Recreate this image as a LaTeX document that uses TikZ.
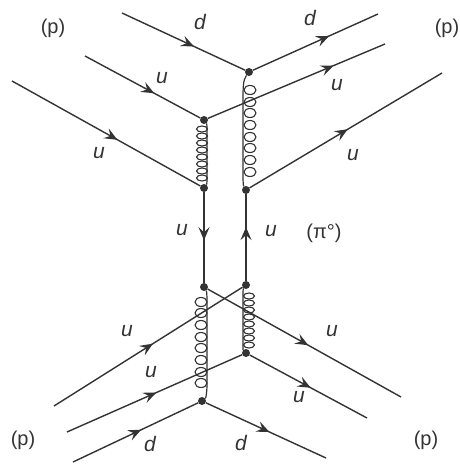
\documentclass[tikz,border=0pt]{standalone}
\usepackage{fontspec}
\setmainfont{Liberation Sans}
\usetikzlibrary{decorations.markings,arrows.meta}
\definecolor{ink}{gray}{0.2}
\tikzset{
  quark/.style={line width=1.4pt,draw=ink,postaction={decorate,decoration={markings,mark=at position #1 with {\arrow[ink]{Stealth[length=13pt,width=11pt,inset=5pt]}}}}},
  vtx/.style={circle,fill=ink,inner sep=0pt,minimum size=8pt},
  gline/.style={line width=1.2pt,draw=ink},
  loopa/.style={line width=1.1pt,draw=ink},
  lbl/.style={font=\fontsize{21}{24}\selectfont\itshape,text=ink,inner sep=0pt},
  tag/.style={font=\fontsize{20}{23}\selectfont,text=ink,inner sep=0pt}
}
\begin{document}
\begin{tikzpicture}[x=1pt,y=-1pt]
\useasboundingbox (0,0) rectangle (460,464);
\node[vtx] (A) at (249,72) {};
\node[vtx] (B) at (204,120) {};
\node[vtx] (C) at (204,188) {};
\node[vtx] (D) at (246,190) {};
\node[vtx] (E) at (204,287) {};
\node[vtx] (F) at (246,285) {};
\node[vtx] (G) at (246,353) {};
\node[vtx] (H) at (202,401) {};
\coordinate (a1) at (122,13);
\coordinate (a2) at (378,14);
\coordinate (b1) at (85,56);
\coordinate (b2) at (385,44);
\coordinate (c1) at (12,81);
\coordinate (d2) at (442,73);
\coordinate (f1) at (54,406);
\coordinate (g1) at (67,432);
\coordinate (h1) at (73,462);
\coordinate (e2) at (401,397);
\coordinate (g2) at (367,418);
\coordinate (h2) at (326,458);
\draw[quark=0.585] (a1) -- (A);
\draw[quark=0.61] (A) -- (a2);
\draw[quark=0.60] (b1) -- (B);
\draw[quark=0.71] (B) -- (b2);
\draw[quark=0.56] (c1) -- (C);
\draw[quark=0.51] (D) -- (d2);
\draw[quark=0.53] (C) -- (E);
\draw[quark=0.62] (F) -- (D);
\draw[quark=0.525] (f1) -- (F);
\draw[quark=0.51] (g1) -- (G);
\draw[quark=0.545] (h1) -- (H);
\draw[quark=0.52] (E) -- (e2);
\draw[quark=0.52] (G) -- (g2);
\draw[quark=0.53] (H) -- (h2);
% gluon spines
\draw[gline] (A) .. controls (243,80) and (243,88) .. (243,100) -- (243,170) .. controls (243,180) and (243,185) .. (D);
\draw[gline] (B) .. controls (207,124) and (207,128) .. (207,132) -- (207,176) .. controls (207,180) and (207,184) .. (C);
\draw[gline] (E) .. controls (207,292) and (207,298) .. (207,306) -- (207,384) .. controls (207,392) and (206,398) .. (H);
\draw[gline] (F) .. controls (243,289) and (243,293) .. (243,298) -- (243,342) .. controls (243,347) and (243,350) .. (G);
% gluon loops
\foreach \y in {90,102,113,125,137,148,160,172} \draw[loopa] (250,\y) ellipse [x radius=6,y radius=4.5];
\foreach \y in {129,136,143,150,157,164,171,178} \draw[loopa] (202,\y) ellipse [x radius=5.5,y radius=3];
\foreach \y in {302,313,325,337,348,360,372,383} \draw[loopa] (201,\y) ellipse [x radius=6,y radius=4.5];
\foreach \y in {296,303,310,317,324,331,338,345} \draw[loopa] (249,\y) ellipse [x radius=5.5,y radius=3];
\node[tag] (p1) at (53,28) {(p)};
\node[tag] (p2) at (447,28) {(p)};
\node[tag] (p3) at (23,440) {(p)};
\node[tag] (p4) at (426,440) {(p)};
\node[tag] (pi) at (324,233) {(π°)};
\node[lbl] (l1) at (200,22) {d};
\node[lbl] (l2) at (310,18) {d};
\node[lbl] (l3) at (162,78) {u};
\node[lbl] (l4) at (337,85) {u};
\node[lbl] (l5) at (99,153) {u};
\node[lbl] (l6) at (353,155) {u};
\node[lbl] (l7) at (182,230) {u};
\node[lbl] (l8) at (271,231) {u};
\node[lbl] (l9) at (127,331) {u};
\node[lbl] (l10) at (332,331) {u};
\node[lbl] (l11) at (151,372) {u};
\node[lbl] (l12) at (299,397) {u};
\node[lbl] (l13) at (150,444) {d};
\node[lbl] (l14) at (241,443) {d};
\end{tikzpicture}
\end{document}
